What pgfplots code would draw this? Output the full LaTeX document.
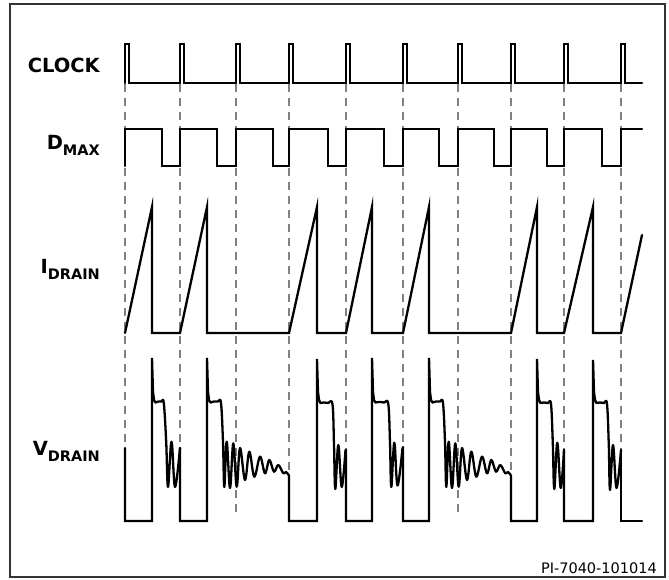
\documentclass[border=0pt]{standalone}
\usepackage{fontspec}
\setmainfont{DejaVu Sans}
\usepackage{pgfplots}
\pgfplotsset{compat=1.18}

\tikzset{
  sig/.style={black, line width=2.3pt, line join=miter, line cap=round, mark=none},
  ring/.style={black, line width=2.3pt, line join=round, line cap=round, mark=none, smooth, tension=0.6},
  guide/.style={gray, line width=1.1pt, dash pattern=on 8pt off 6pt, mark=none},
  lbl/.style={anchor=base east, inner sep=0pt},
}
\newcommand{\mainlbl}[1]{{\fontsize{19.5}{19.5}\selectfont\bfseries #1}}
\newcommand{\sublbl}[1]{\raisebox{-6pt}{\fontsize{14.5}{14.5}\selectfont\bfseries #1}}

\begin{document}
\begin{tikzpicture}
\begin{axis}[
    x=1pt, y=1pt,
    xmin=0, xmax=669, ymin=0, ymax=580,
    y dir=reverse,
    hide axis,
    clip=false,
]

% clock edges (dashed guides)
\addplot[guide] coordinates {(125,84) (125,515)};
\addplot[guide] coordinates {(180,84) (180,515)};
\addplot[guide] coordinates {(236,84) (236,515)};
\addplot[guide] coordinates {(289,84) (289,515)};
\addplot[guide] coordinates {(346,84) (346,515)};
\addplot[guide] coordinates {(403,84) (403,515)};
\addplot[guide] coordinates {(458,84) (458,515)};
\addplot[guide] coordinates {(511,84) (511,515)};
\addplot[guide] coordinates {(564,84) (564,515)};
\addplot[guide] coordinates {(621,84) (621,515)};

% CLOCK
\addplot[sig] coordinates {
  (125,83) (125,44) (129,44) (129,83)
  (180,83) (180,44) (184,44) (184,83)
  (236,83) (236,44) (240,44) (240,83)
  (289,83) (289,44) (293,44) (293,83)
  (346,83) (346,44) (350,44) (350,83)
  (403,83) (403,44) (407,44) (407,83)
  (458,83) (458,44) (462,44) (462,83)
  (511,83) (511,44) (515,44) (515,83)
  (564,83) (564,44) (568,44) (568,83)
  (621,83) (621,44) (625,44) (625,83)
  (642,83)
};

% DMAX
\addplot[sig] coordinates {
  (125,166) (125,129) (162,129) (162,166)
  (180,166) (180,129) (217,129) (217,166)
  (236,166) (236,129) (273,129) (273,166)
  (289,166) (289,129) (328,129) (328,166)
  (346,166) (346,129) (384,129) (384,166)
  (403,166) (403,129) (439,129) (439,166)
  (458,166) (458,129) (494,129) (494,166)
  (511,166) (511,129) (547,129) (547,166)
  (564,166) (564,129) (602,129) (602,166)
  (621,166) (621,129) (642,129)
};

% IDRAIN
\addplot[sig] coordinates {
  (125,333) (152,207) (152,333)
  (180,333) (207,207) (207,333)
  (289,333) (317,207) (317,333)
  (346,333) (372,207) (372,333)
  (403,333) (429,207) (429,333)
  (511,333) (537,207) (537,333)
  (564,333) (593,207) (593,333)
  (621,333) (642,235)
};

% VDRAIN: switching edges and spikes
\addplot[sig] coordinates {(125,448) (125,521) (152,521) (152,358) (153,392) (154,400) (155.5,402.5)};
\addplot[sig] coordinates {(180,448) (180,521) (207,521) (207,358) (208,392) (209,400) (210.5,402.5)};
\addplot[sig] coordinates {(289,475.5) (289,521) (317,521) (317,359) (318,392) (319,400) (320.5,403)};
\addplot[sig] coordinates {(346,450) (346,521) (372,521) (372,358) (373,392) (374,400) (375.5,402.5)};
\addplot[sig] coordinates {(403,447) (403,521) (429,521) (429,358) (430,392) (431,400) (432.5,402.5)};
\addplot[sig] coordinates {(511,475.5) (511,521) (537,521) (537,359) (538,392) (539,400) (540.5,403)};
\addplot[sig] coordinates {(564,450) (564,521) (593,521) (593,360) (594,392) (595,400) (596.5,403)};
\addplot[sig] coordinates {(621,450) (621,521) (642,521)};

% VDRAIN: plateau and ringing
\addplot[ring] coordinates {
  (155.5,402.5) (158.5,401.5) (161.5,401.5) (163.8,403) (166.2,442)
  (168,487) (171.5,441.7) (175,487) (180,448)
};
\addplot[ring] coordinates {
  (210.5,402.5) (214,401.5) (218,401.5) (221,403) (223,442)
  (224.3,487) (226.7,441.7) (230,488) (233.3,443.3) (236.7,486.7)
  (240,448) (245,480) (249.3,451.7) (254.3,476.7) (260,456.7)
  (265,473.3) (269.3,460) (274,471.7) (278.3,465) (283.3,473.3)
  (286,472) (289,475.5)
};
\addplot[ring] coordinates {
  (320.5,403) (324,402.5) (328,403) (332.5,404.5) (334,445)
  (335.3,489) (338.3,445) (341.7,487) (345.5,450)
};
\addplot[ring] coordinates {
  (375.5,402.5) (379,402) (384,402.5) (388.3,404) (390,442.7)
  (391.3,487) (394.3,442.7) (397.5,485.5) (402.5,448)
};
\addplot[ring] coordinates {
  (432.5,402.5) (436,401.5) (440,401.5) (443,403) (445,442)
  (446.3,487) (448.7,441.7) (452,488) (455.3,443.3) (458.7,486.7)
  (462,448) (467,480) (471.3,451.7) (476.3,476.7) (482,456.7)
  (487,473.3) (491.3,460) (496,471.7) (500.3,465) (505.3,473.3)
  (508,472) (511,475.5)
};
\addplot[ring] coordinates {
  (540.5,403) (544,402.5) (548,403) (551,404) (552.8,443)
  (554.3,489) (557.3,442.7) (560.7,488) (564,450)
};
\addplot[ring] coordinates {
  (596.5,403) (600,402.5) (604,403) (607,404) (608.8,445)
  (610,490) (613,445) (616.5,488) (621,450)
};

% frame
\addplot[black!80, line width=1.6pt, line cap=rect, mark=none] coordinates {
  (10,4) (665,4) (665,577) (10,577) (10,4)
};

\node[lbl] at (axis cs:100,72.5) {\mainlbl{CLOCK}};
\node[lbl] at (axis cs:100,150) {\mainlbl{D}\sublbl{MAX}};
\node[lbl] at (axis cs:100,273.3) {\mainlbl{I}\sublbl{DRAIN}};
\node[lbl] at (axis cs:100,455) {\mainlbl{V}\sublbl{DRAIN}};
\node[lbl] at (axis cs:657,573) {\fontsize{14.5}{14.5}\selectfont PI-7040-101014};
\end{axis}
\pgfresetboundingbox
\useasboundingbox (current axis.south west) rectangle (current axis.north east);
\end{tikzpicture}
\end{document}
